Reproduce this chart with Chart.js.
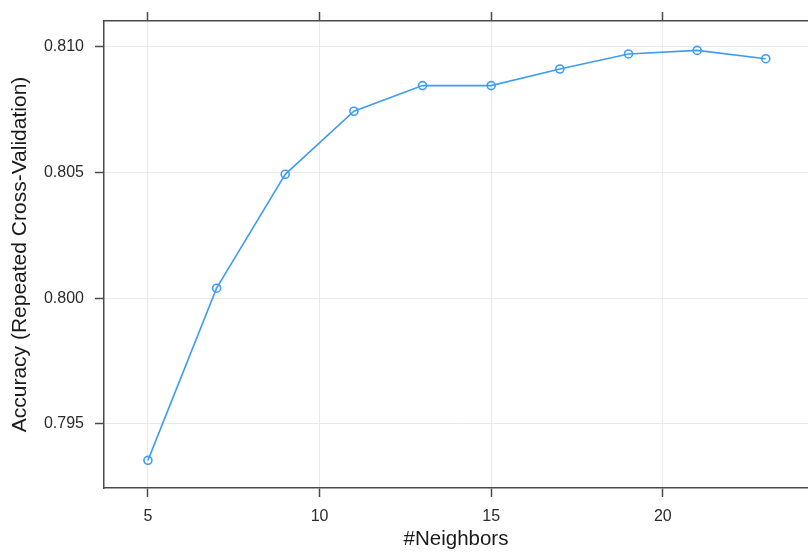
<!DOCTYPE html>
<html>
<head>
<meta charset="utf-8">
<title>kNN tuning: accuracy vs. neighbours</title>
<script src="https://cdn.jsdelivr.net/npm/chart.js@4.4.1/dist/chart.umd.min.js"></script>
<style>
  html, body { margin: 0; padding: 0; background: #ffffff; }
  #wrap { width: 808px; height: 560px; position: relative; }
</style>
</head>
<body>
<div id="wrap"><canvas id="chart" width="808" height="560"></canvas></div>
<script>
// Number of neighbours tried during tuning
const neighbors = [5, 7, 9, 11, 13, 15, 17, 19, 21, 23];
// Resampled accuracy for each k
const accuracy = [0.79355, 0.80040, 0.80493, 0.80744, 0.80846, 0.80846, 0.80912, 0.80972, 0.80986, 0.80953];
// Tick positions
const xTicks = [5, 10, 15, 20];
const yTicks = [0.795, 0.800, 0.805, 0.810];
// Axis ranges (data range plus a small margin)
const xRange = [3.72, 24.23];
const yRange = [0.79245, 0.81103];

const FONT = "'Liberation Sans', Arial, sans-serif";
const LINE = '#3f9cf5';
const FRAME = '#4a4a4a';
const GRID = '#e9e9e9';

const fixTicks = list => scale => { scale.ticks = list.map(v => ({ value: v })); };

new Chart(document.getElementById('chart'), {
  type: 'line',
  data: {
    datasets: [{
      data: neighbors.map((k, i) => ({ x: k, y: accuracy[i] })),
      borderColor: LINE,
      borderWidth: 1.6,
      tension: 0,
      pointRadius: 4,
      pointHoverRadius: 4,
      pointBorderWidth: 1.6,
      pointBorderColor: LINE,
      pointBackgroundColor: 'rgba(255,255,255,0)',
      fill: false
    }]
  },
  options: {
    responsive: false,
    animation: false,
    events: [],
    layout: { autoPadding: false, padding: 0 },
    plugins: { legend: { display: false }, tooltip: { enabled: false } },
    scales: {
      x: {
        type: 'linear',
        position: 'bottom',
        min: xRange[0],
        max: xRange[1],
        afterBuildTicks: fixTicks(xTicks),
        afterFit: s => { s.height = 72; },
        grid: { color: GRID, lineWidth: 1, tickLength: 9, tickColor: FRAME, tickWidth: 1.5 },
        border: { display: true, color: FRAME, width: 1.5 },
        ticks: {
          padding: 10,
          maxRotation: 0,
          color: '#2b2b2b',
          font: { family: FONT, size: 16 },
          callback: v => String(v)
        },
        title: {
          display: true,
          text: '#Neighbors',
          color: '#1a1a1a',
          font: { family: FONT, size: 20.5 },
          padding: { top: 0, bottom: 8 }
        }
      },
      xTop: {
        type: 'linear',
        position: 'top',
        min: xRange[0],
        max: xRange[1],
        afterBuildTicks: fixTicks(xTicks),
        afterFit: s => { s.height = 21; },
        grid: { drawOnChartArea: false, tickLength: 9, tickColor: FRAME, tickWidth: 1.5 },
        border: { display: true, color: FRAME, width: 1.5 },
        ticks: { padding: 0, font: { size: 1 }, callback: () => '' }
      },
      y: {
        type: 'linear',
        position: 'left',
        min: yRange[0],
        max: yRange[1],
        afterBuildTicks: fixTicks(yTicks),
        afterFit: s => { s.width = 104; },
        grid: { color: GRID, lineWidth: 1, tickLength: 9, tickColor: FRAME, tickWidth: 1.5 },
        border: { display: true, color: FRAME, width: 1.5 },
        ticks: {
          padding: 11,
          color: '#2b2b2b',
          font: { family: FONT, size: 16 },
          callback: v => v.toFixed(3)
        },
        title: {
          display: true,
          text: 'Accuracy (Repeated Cross-Validation)',
          color: '#1a1a1a',
          font: { family: FONT, size: 21 },
          padding: { top: 8, bottom: 0 }
        }
      }
    }
  }
});
</script>
</body>
</html>
